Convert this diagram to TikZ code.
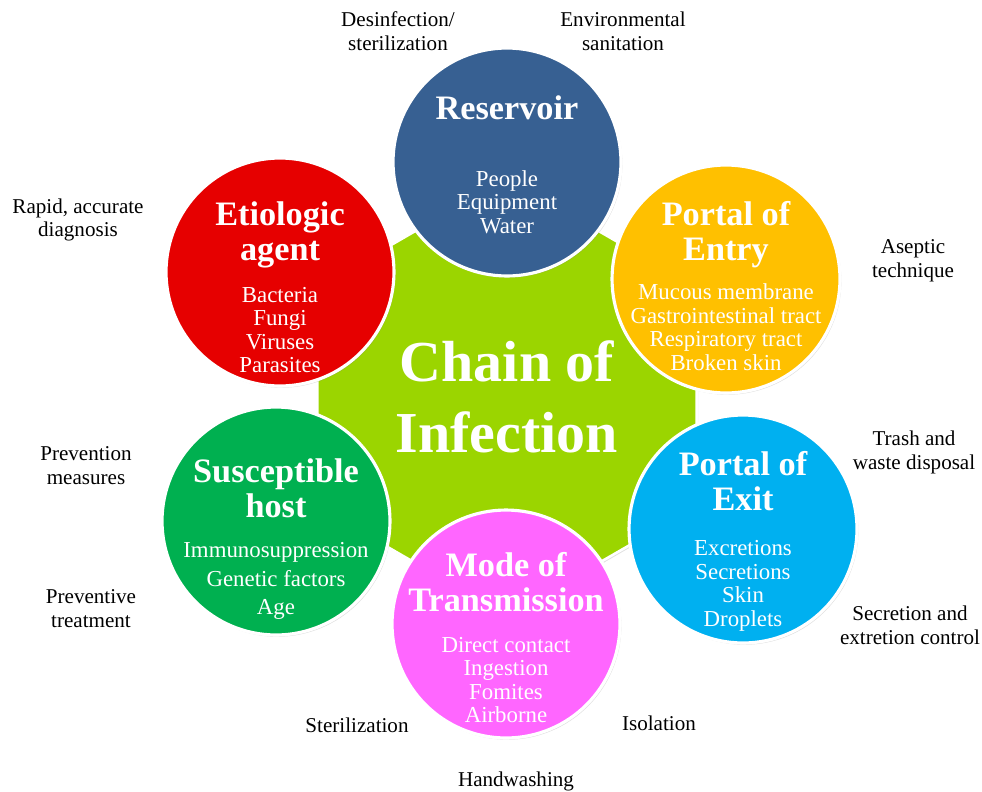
\documentclass[tikz,border=0pt]{standalone}
\usepackage{fontspec}
\setmainfont{Liberation Serif}
\usepackage{xcolor}
\usetikzlibrary{shapes.geometric, positioning, calc, shadows}

\definecolor{hubgreen}{RGB}{155,213,0}
\definecolor{resblue}{RGB}{55,96,146}
\definecolor{agentred}{RGB}{230,0,0}
\definecolor{entryorange}{RGB}{255,192,0}
\definecolor{exitblue}{RGB}{0,176,240}
\definecolor{modepink}{RGB}{255,102,255}
\definecolor{hostgreen}{RGB}{0,176,80}

\begin{document}
\begin{tikzpicture}[
    x=0.02cm, y=-0.02cm,
    softshadow/.style={drop shadow={opacity=0.25, shadow xshift=0.8pt, shadow yshift=-1pt}},
    hub/.style={regular polygon, regular polygon sides=6, shape border rotate=90, minimum size=8.76cm, inner sep=0pt, fill=hubgreen, draw=white, line width=1.5pt, softshadow, align=center, text=white, font=\fontsize{33}{40}\selectfont\bfseries},
    link/.style={circle, minimum size=4.56cm, draw=white, line width=1.8pt, softshadow},
    head/.style={align=center, text=white, inner sep=0pt, font=\fontsize{19.5}{20}\selectfont\bfseries},
    items/.style={align=center, text=white, inner sep=0pt, font=\fontsize{13}{13.4}\selectfont},
    note/.style={align=center, text=black, inner sep=0pt, font=\fontsize{12}{13.6}\selectfont}
]
    \useasboundingbox (0,0) rectangle (982,791);

    \node[hub] (hub) at (507,397) {Chain of\\Infection};

    \node[link, fill=resblue] (res) at (507,162) {};
    \node[link, fill=agentred] (agent) at (280,272) {};
    \node[link, fill=entryorange] (entry) at (726,279) {};
    \node[link, fill=exitblue] (exit) at (743,529) {};
    \node[link, fill=modepink] (mode) at (506,624) {};
    \node[link, fill=hostgreen] (host) at (276,521) {};

    \node[head] (res-h) at ($(res)+(0,-54)$) {Reservoir};
    \node[items] (res-i) at ($(res)+(0,40)$) {People\\Equipment\\Water};

    \node[head] (agent-h) at ($(agent)+(0,-37)$) {Etiologic\\agent};
    \node[items] (agent-i) at ($(agent)+(0,58)$) {Bacteria\\Fungi\\Viruses\\Parasites};

    \node[head] (entry-h) at ($(entry)+(0,-44)$) {Portal of\\Entry};
    \node[items] (entry-i) at ($(entry)+(0,48)$) {Mucous membrane\\Gastrointestinal tract\\Respiratory tract\\Broken skin};

    \node[head] (exit-h) at ($(exit)+(0,-48)$) {Portal of\\Exit};
    \node[items] (exit-i) at ($(exit)+(0,57)$) {Excretions\\Secretions\\Skin\\Droplets};

    \node[head] (mode-h) at ($(mode)+(0,-42)$) {Mode of\\Transmission};
    \node[items] (mode-i) at ($(mode)+(0,56)$) {Direct contact\\Ingestion\\Fomites\\Airborne};

    \node[head] (host-h) at ($(host)+(0,-33)$) {Susceptible\\host};
    \node[items, font=\fontsize{13}{16}\selectfont] (host-i) at ($(host)+(0,60)$) {Immunosuppression\\Genetic factors\\Age};

    \node[note] (n-disinf) at (398,31) {Desinfection/\\sterilization};
    \node[note] (n-env) at (623,31) {Environmental\\sanitation};
    \node[note] (n-diag) at (78,220) {Rapid, accurate\\diagnosis};
    \node[note] (n-asep) at (913,261) {Aseptic\\technique};
    \node[note] (n-trash) at (914,452) {Trash and\\waste disposal};
    \node[note] (n-secr) at (910,625) {Secretion and\\extretion control};
    \node[note] (n-prev) at (86,466) {Prevention\\measures};
    \node[note] (n-treat) at (91,609) {Preventive\\treatment};
    \node[note] (n-steril) at (357,725) {Sterilization};
    \node[note] (n-iso) at (659,723) {Isolation};
    \node[note] (n-hand) at (516,781) {Handwashing};
\end{tikzpicture}
\end{document}
